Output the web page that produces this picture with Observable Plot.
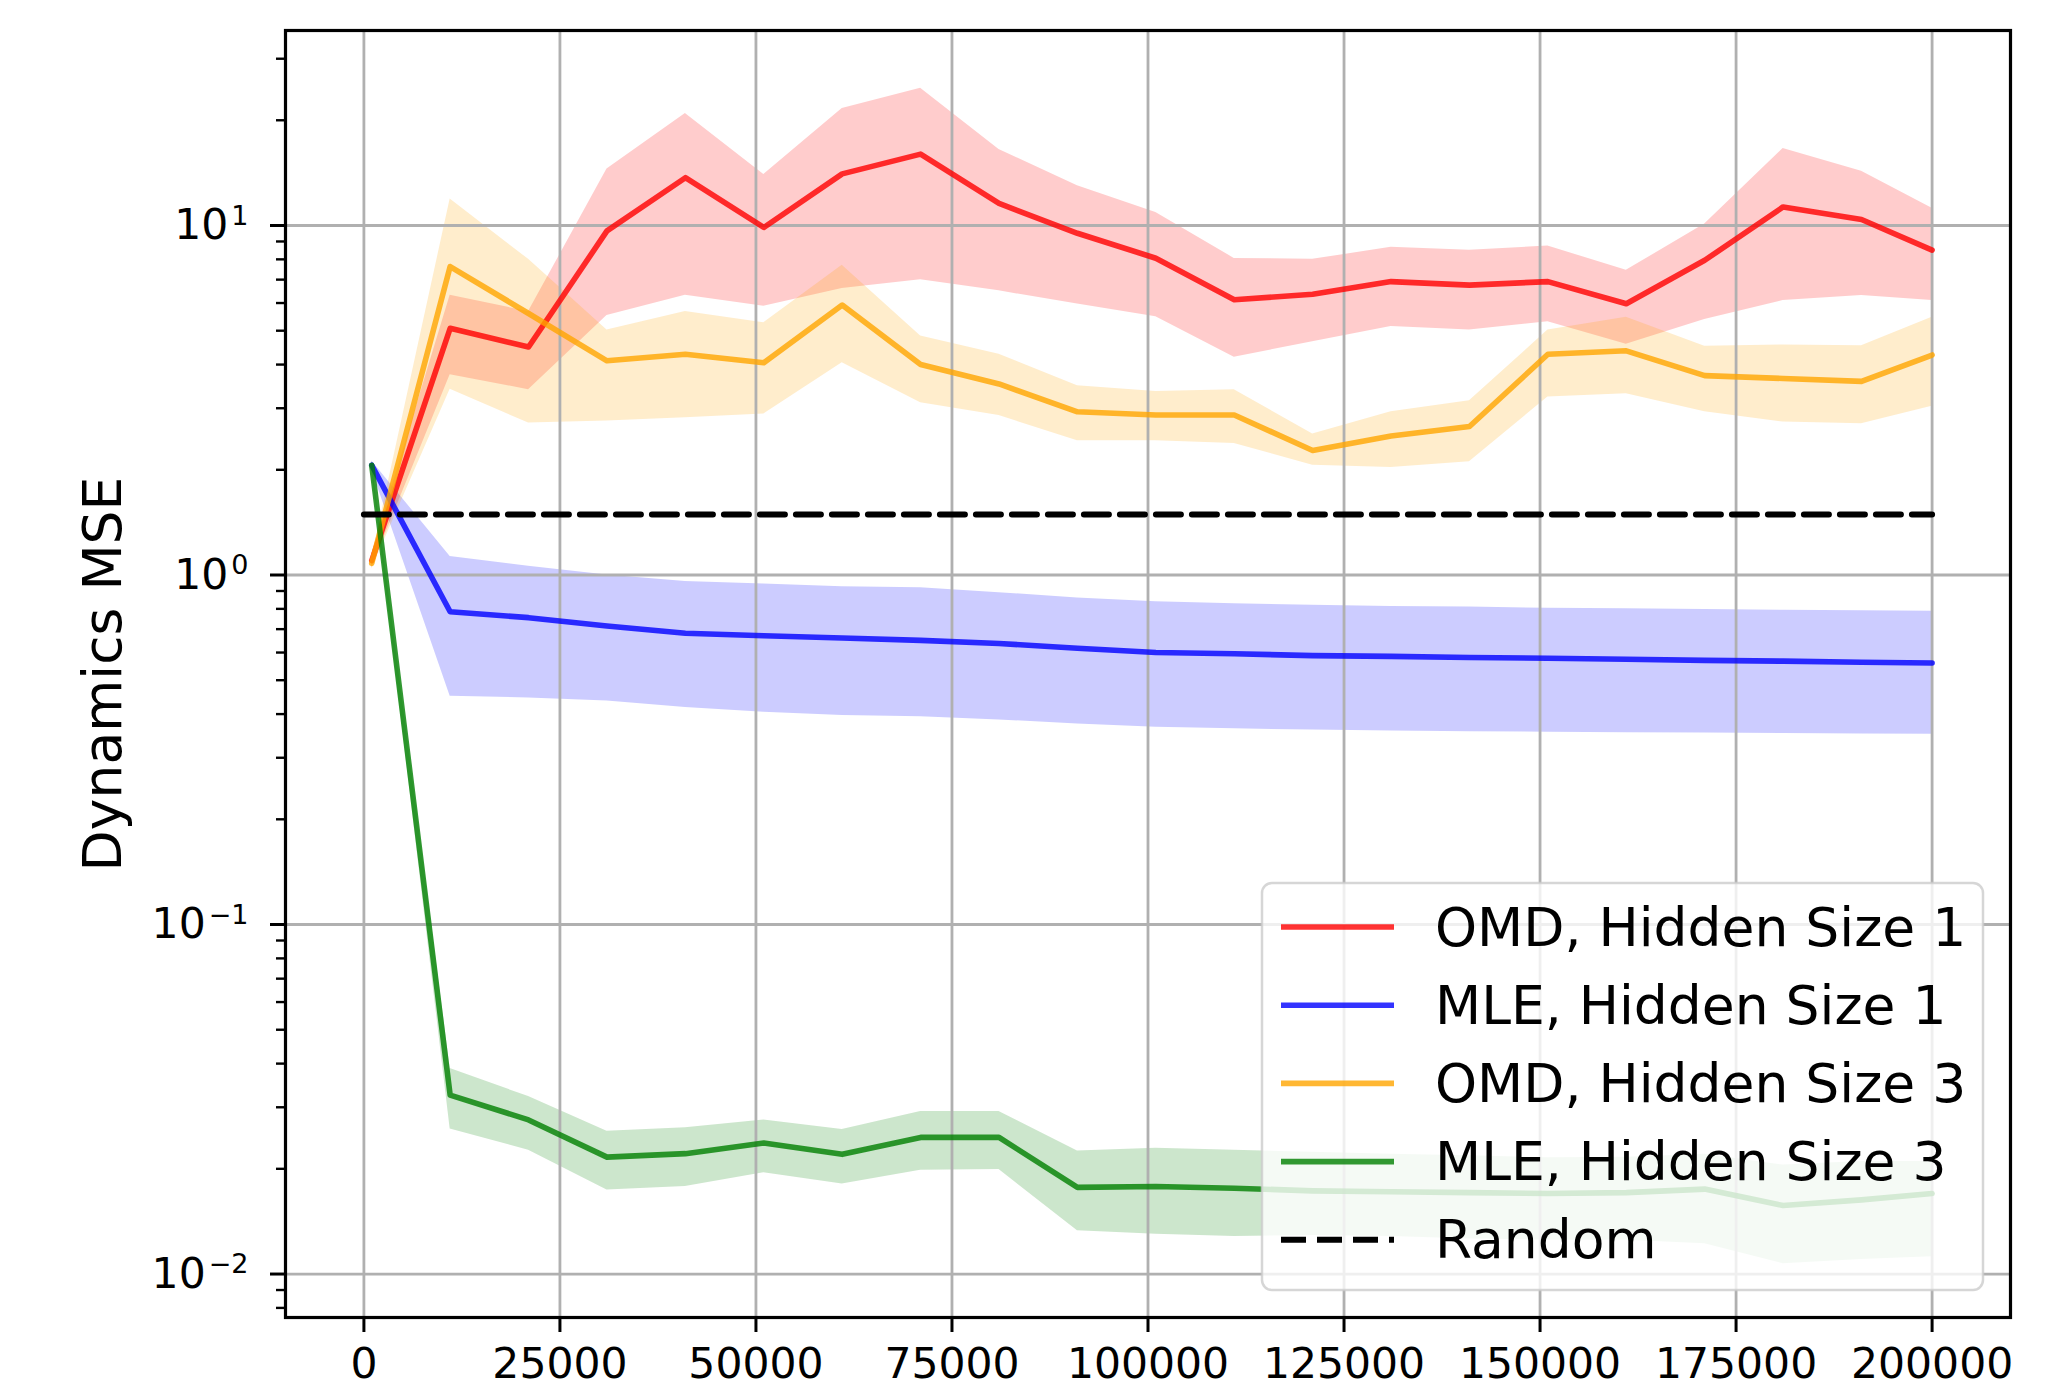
<!DOCTYPE html>
<html>
<head>
<meta charset="utf-8">
<script src="https://cdn.jsdelivr.net/npm/d3@7"></script>
<script src="https://cdn.jsdelivr.net/npm/@observablehq/plot@0.6"></script>
<style>
  html, body { margin: 0; padding: 0; background: #ffffff; }
  #chart { width: 2047px; height: 1387px; }
</style>
</head>
<body>
<div id="chart"></div>
<script>
// ---------------- data ----------------
const steps = [1000, 11000, 21000, 31000, 41000, 51000, 61000, 71000, 81000, 91000, 101000,
               111000, 121000, 131000, 141000, 151000, 161000, 171000, 181000, 191000, 200000];

const seriesNames = ["OMD, Hidden Size 1", "MLE, Hidden Size 1", "OMD, Hidden Size 3", "MLE, Hidden Size 3"];
const seriesColors = ["#ff0000", "#0000ff", "#ffa500", "#008000"];

const omdH1Mean = [1.1, 5.08, 4.49, 9.65, 13.7, 9.87, 14.05, 16.0, 11.56, 9.5, 8.06, 6.13, 6.36, 6.91, 6.75, 6.91, 5.97, 7.95, 11.3, 10.4, 8.5];
const omdH1Lo   = [1.05, 3.74, 3.39, 5.53, 6.32, 5.87, 6.6, 7.0, 6.5, 5.96, 5.48, 4.2, 4.65, 5.14, 5.02, 5.3, 4.57, 5.38, 6.1, 6.3, 6.1];
const omdH1Hi   = [1.15, 6.32, 5.67, 14.5, 20.9, 14.0, 21.6, 24.7, 16.5, 13.0, 10.9, 8.05, 8.0, 8.66, 8.49, 8.74, 7.44, 10.1, 16.6, 14.3, 11.2];

const mleH1Mean = [2.06, 0.785, 0.755, 0.715, 0.681, 0.67, 0.66, 0.65, 0.637, 0.617, 0.60, 0.595, 0.588, 0.585, 0.581, 0.578, 0.574, 0.57, 0.567, 0.563, 0.56];
const mleH1Lo   = [2.0, 0.45, 0.445, 0.436, 0.418, 0.405, 0.396, 0.393, 0.385, 0.375, 0.367, 0.363, 0.36, 0.358, 0.356, 0.355, 0.354, 0.353, 0.352, 0.351, 0.35];
const mleH1Hi   = [2.12, 1.13, 1.06, 1.0, 0.958, 0.942, 0.926, 0.919, 0.89, 0.86, 0.839, 0.827, 0.819, 0.813, 0.81, 0.803, 0.8, 0.797, 0.793, 0.79, 0.788];

const omdH3Mean = [1.08, 7.63, 5.6, 4.1, 4.28, 4.05, 5.92, 4.0, 3.52, 2.93, 2.87, 2.87, 2.27, 2.5, 2.66, 4.28, 4.38, 3.72, 3.65, 3.58, 4.26];
const omdH3Lo   = [1.04, 3.4, 2.72, 2.76, 2.82, 2.89, 4.05, 3.11, 2.86, 2.42, 2.42, 2.38, 2.06, 2.03, 2.11, 3.23, 3.3, 2.93, 2.74, 2.71, 3.04];
const omdH3Hi   = [1.12, 11.9, 8.0, 5.02, 5.67, 5.27, 7.69, 4.83, 4.28, 3.48, 3.35, 3.39, 2.53, 2.93, 3.15, 5.02, 5.46, 4.51, 4.55, 4.53, 5.46];

const mleH3Mean = [2.06, 0.0325, 0.0276, 0.0216, 0.0221, 0.0237, 0.022, 0.0246, 0.0246, 0.0177, 0.0178, 0.0176, 0.0173, 0.0172, 0.0171, 0.017, 0.0171, 0.0175, 0.0157, 0.0163, 0.017];
const mleH3Lo   = [2.0, 0.026, 0.0226, 0.0174, 0.0178, 0.0195, 0.0181, 0.0198, 0.0199, 0.0133, 0.013, 0.0128, 0.0129, 0.0128, 0.0126, 0.0125, 0.0125, 0.0122, 0.0107, 0.011, 0.0112];
const mleH3Hi   = [2.12, 0.0387, 0.0322, 0.0256, 0.0262, 0.0276, 0.0259, 0.0292, 0.0292, 0.0225, 0.0229, 0.0226, 0.0223, 0.022, 0.0218, 0.0215, 0.0216, 0.022, 0.0205, 0.021, 0.021];

const randomName = "Random";
const randomX = [0, 200000];
const randomY = [1.49, 1.49];

const xTicks = [0, 25000, 50000, 75000, 100000, 125000, 150000, 175000, 200000];
const xTickLabels = ["0", "25000", "50000", "75000", "100000", "125000", "150000", "175000", "200000"];
const yMajorTicks = [0.01, 0.1, 1, 10];
const yTickBase = "10";
const yTickExponents = ["\u22122", "\u22121", "0", "1"];
const yMinorTicks = [0.008, 0.009,
  0.02, 0.03, 0.04, 0.05, 0.06, 0.07, 0.08, 0.09,
  0.2, 0.3, 0.4, 0.5, 0.6, 0.7, 0.8, 0.9,
  2, 3, 4, 5, 6, 7, 8, 9,
  20, 30];
const yLabel = "Dynamics MSE";

// ---------------- tables ----------------
const means = [omdH1Mean, mleH1Mean, omdH3Mean, mleH3Mean];
const los = [omdH1Lo, mleH1Lo, omdH3Lo, mleH3Lo];
const his = [omdH1Hi, mleH1Hi, omdH3Hi, mleH3Hi];
const tables = seriesNames.map((name, k) =>
  steps.map((x, i) => ({name, x, mean: means[k][i], lo: los[k][i], hi: his[k][i]})));
const randomRows = randomX.map((x, i) => ({x, y: randomY[i]}));

const FONT = "DejaVu Sans";
const LW = 5.6;
const SEP = "\u2063"; // invisible separator between base and exponent
const marks = [];
tables.forEach((t, k) => marks.push(
  Plot.areaY(t, {x: "x", y1: "lo", y2: "hi", fill: seriesColors[k], fillOpacity: 0.2})));
marks.push(Plot.gridX({ticks: xTicks, stroke: "#b0b0b0", strokeOpacity: 1, strokeWidth: 2.8}));
marks.push(Plot.gridY({ticks: yMajorTicks, stroke: "#b0b0b0", strokeOpacity: 1, strokeWidth: 2.8}));
tables.forEach((t, k) => marks.push(
  Plot.lineY(t, {x: "x", y: "mean", stroke: seriesColors[k], strokeOpacity: 0.8, strokeWidth: LW})));
marks.push(Plot.lineY(randomRows, {x: "x", y: "y", stroke: "black", strokeWidth: 6, strokeDasharray: "25,11"}));
marks.push(Plot.frame({stroke: "black", strokeWidth: 3.2}));
marks.push(Plot.axisX({ticks: xTicks, tickSize: 15, tickPadding: 15, strokeWidth: 3, label: null,
  tickFormat: d => xTickLabels[xTicks.indexOf(d)], fontSize: 42.5}));
marks.push(Plot.axisY({ticks: yMajorTicks, tickSize: 15, tickPadding: 22, strokeWidth: 3, label: null,
  tickFormat: d => yTickBase + SEP + yTickExponents[yMajorTicks.indexOf(d)], fontSize: 42.5,
  ariaLabel: "y-axis major"}));
marks.push(Plot.axisY({ticks: yMinorTicks, tickSize: 9, tickPadding: 0, strokeWidth: 2.4, label: null,
  tickFormat: () => ""}));
marks.push(Plot.text([yLabel], {frameAnchor: "left", dx: -165, rotate: -90, fontSize: 53.5,
  textAnchor: "middle", lineAnchor: "bottom", fill: "black"}));

const plot = Plot.plot({
  width: 2047,
  height: 1387,
  marginLeft: 285,
  marginRight: 37,
  marginTop: 30,
  marginBottom: 70,
  style: {fontFamily: FONT, fontSize: "42.5px", background: "white", color: "black"},
  x: {domain: [-10000, 210000]},
  y: {type: "log", domain: [0.00751, 36.13]},
  marks
});

const svg = d3.select(plot);

// turn "10<sep>exp" tick labels into base + raised, smaller exponent (like mathtext)
svg.selectAll("text").each(function () {
  const t = d3.select(this);
  const s = t.text();
  if (!s.includes(SEP)) return;
  const [base, exp] = s.split(SEP);
  t.text(base);
  t.append("tspan").attr("dx", 3).attr("dy", -14.5).attr("font-size", 27).text(exp);
});

// ---------------- legend (upper layer, like matplotlib) ----------------
const legendNames = [...seriesNames, randomName];
const legendColors = [...seriesColors, "black"];
const lg = svg.append("g").attr("font-family", FONT).attr("font-size", 53.5);
lg.append("rect")
  .attr("x", 1262).attr("y", 883).attr("width", 721).attr("height", 407)
  .attr("rx", 10).attr("ry", 10)
  .attr("fill", "white").attr("fill-opacity", 0.8)
  .attr("stroke", "#cccccc").attr("stroke-opacity", 0.8).attr("stroke-width", 2.5);
legendNames.forEach((name, i) => {
  const y = 927 + i * 78.2;
  const isRandom = i === legendNames.length - 1;
  lg.append("line")
    .attr("x1", 1281).attr("x2", 1394).attr("y1", y).attr("y2", y)
    .attr("stroke", legendColors[i])
    .attr("stroke-opacity", isRandom ? 1 : 0.8)
    .attr("stroke-width", isRandom ? 6 : LW)
    .attr("stroke-dasharray", isRandom ? "25,11" : null);
  lg.append("text")
    .attr("x", 1435).attr("y", y + 18.5)
    .attr("fill", "black")
    .attr("text-anchor", "start")
    .text(name);
});

document.getElementById("chart").appendChild(plot);
</script>
</body>
</html>
